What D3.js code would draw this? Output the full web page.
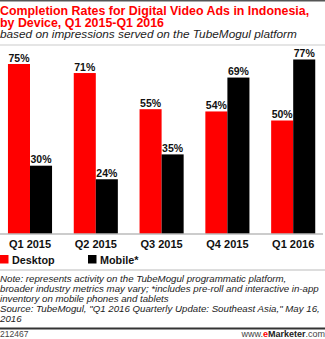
<!DOCTYPE html>
<html><head><meta charset="utf-8">
<script src="https://cdn.jsdelivr.net/npm/d3@7"></script>
<style>html,body{margin:0;padding:0;background:#fff;}svg{display:block;}</style>
</head><body>
<script>
const categories = ["Q1 2015","Q2 2015","Q3 2015","Q4 2015","Q1 2016"];
const desktop = [75,71,55,54,50];
const mobile = [30,24,35,69,77];
const seriesNames = ["Desktop","Mobile*"];
const seriesColors = ["#ff0000","#000000"];
const titleLines = ["Completion Rates for Digital Video Ads in Indonesia,","by Device, Q1 2015-Q1 2016"];
const subtitle = "based on impressions served on the TubeMogul platform";
const noteLines = ["Note: represents activity on the TubeMogul programmatic platform,",
 "broader industry metrics may vary; *includes pre-roll and interactive in-app",
 "inventory on mobile phones and tablets",
 "Source: TubeMogul, \"Q1 2016 Quarterly Update: Southeast Asia,\" May 16,",
 "2016"];
const chartId = "212467";

const W=325,H=339;
const svg=d3.select("body").append("svg").attr("width",W).attr("height",H);
const font="Liberation Sans, Arial, sans-serif";

svg.append("rect").attr("x",0).attr("y",0).attr("width",W).attr("height",1.5).attr("fill","#555");
const t=svg.append("text").attr("font-family",font).attr("font-weight","bold").attr("font-size",12.4).attr("fill","#ff0000");
titleLines.forEach((l,i)=>t.append("tspan").attr("x",0).attr("y",14.5+i*12.5).text(l));
svg.append("text").attr("x",0).attr("y",38).attr("font-family",font).attr("font-style","italic").attr("font-size",11.8).attr("fill","#222").text(subtitle);
svg.append("rect").attr("x",0).attr("y",44.5).attr("width",W).attr("height",1).attr("fill","#ccc");

const x=d3.scaleBand().domain(categories).range([-2.9,326.1]).paddingInner(0.33).paddingOuter(0.165);
const xs=d3.scaleBand().domain(seriesNames).range([0,x.bandwidth()]);
const y=d3.scaleLinear().domain([0,100]).range([233.5,233.5-226]);

const data=categories.map((c,i)=>({c,vals:[desktop[i],mobile[i]]}));
const g=svg.append("g");
data.forEach(d=>{
  d.vals.forEach((v,j)=>{
    const bx=x(d.c)+xs(seriesNames[j]);
    g.append("rect").attr("x",bx).attr("y",y(v)).attr("width",xs.bandwidth()).attr("height",y(0)-y(v)).attr("fill",seriesColors[j]);
    g.append("text").attr("x",bx+xs.bandwidth()/2).attr("y",y(v)-2.5).attr("text-anchor","middle")
      .attr("font-family",font).attr("font-weight","bold").attr("font-size",10.5).attr("fill","#111").text(v+"%");
  });
});
const ax=svg.append("g").attr("transform","translate(0,233.5)").call(d3.axisBottom(x).tickSize(0).tickPadding(7));
ax.select(".domain").attr("d","M0,0.5H323").attr("stroke","#999").attr("stroke-width",1);
ax.selectAll("text").attr("font-family",font).attr("font-weight","bold").attr("font-size",11).attr("fill","#111");

const legX=[0,88];
seriesNames.forEach((s,j)=>{
  svg.append("rect").attr("x",legX[j]).attr("y",255).attr("width",8.5).attr("height",8.5).attr("fill",seriesColors[j]);
  svg.append("text").attr("x",legX[j]+12).attr("y",263.5).attr("font-family",font).attr("font-weight","bold").attr("font-size",10.8).attr("fill","#111").text(s);
});
svg.append("rect").attr("x",0).attr("y",269.5).attr("width",W).attr("height",1).attr("fill","#bbb");
const n=svg.append("text").attr("font-family",font).attr("font-style","italic").attr("font-size",9.7).attr("fill","#222");
noteLines.forEach((l,i)=>n.append("tspan").attr("x",0).attr("y",281.5+i*10).text(l));
svg.append("rect").attr("x",0).attr("y",327.5).attr("width",W).attr("height",2).attr("fill","#333");
svg.append("text").attr("x",0).attr("y",337).attr("font-family",font).attr("font-size",8.5).attr("fill","#444").text(chartId);
const f=svg.append("text").attr("x",W).attr("y",337).attr("text-anchor","end").attr("font-family",font).attr("font-size",9).attr("fill","#444");
f.append("tspan").text("www.");
f.append("tspan").attr("fill","#ff0000").attr("font-weight","bold").text("e");
f.append("tspan").attr("font-weight","bold").attr("fill","#222").text("Marketer");
f.append("tspan").text(".com");
</script>
</body></html>
